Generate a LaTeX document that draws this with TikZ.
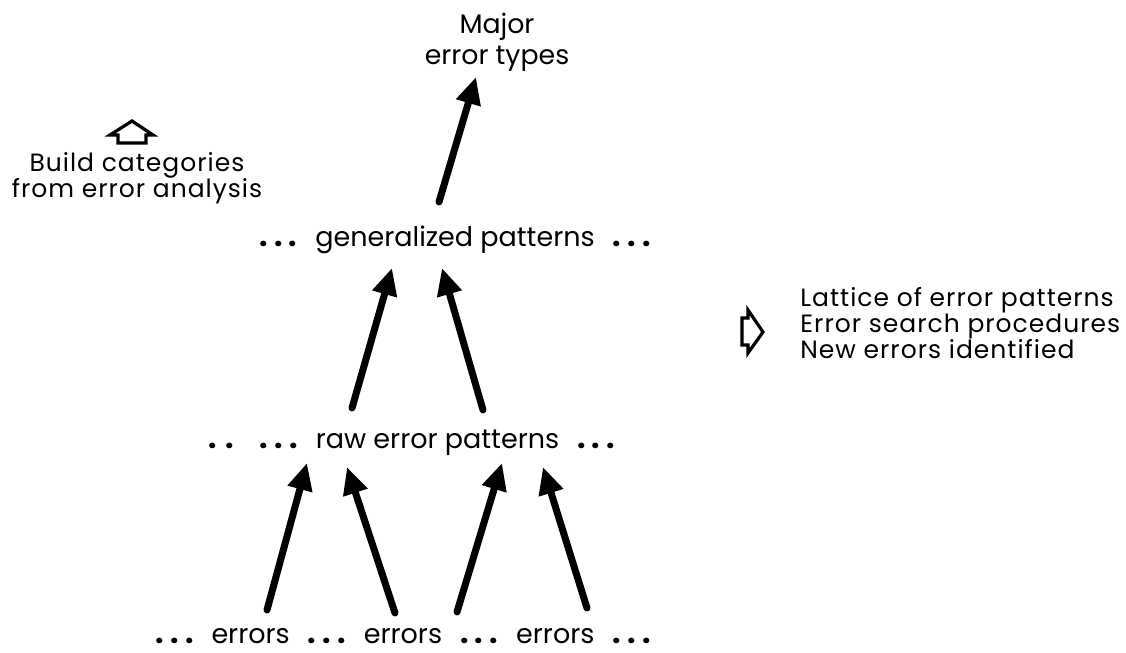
\documentclass[tikz,border=0pt]{standalone}
\usepackage{fontspec}
\setmainfont{Poppins}
\newfontfamily\notefont[LetterSpace=4]{Poppins}
\usetikzlibrary{arrows.meta}
\tikzset{
  every node/.style={font=\notefont\fontsize{12.5}{13}\selectfont, inner sep=0pt},
  level/.style={anchor=base, font=\fontsize{13.5}{14}\selectfont},
  note/.style={align=left, anchor=north west},
  arrow/.style={-{Triangle[length=13.5pt,width=12pt]}, line width=3.5pt, line cap=round},
  hollow/.style={line width=1.6pt, line join=miter},
}
\newcommand{\dts}{\makebox[19pt][s]{\bfseries\fontsize{15}{15}\selectfont.\hfil.\hfil.}}
\newcommand{\twodts}{\makebox[12.5pt][s]{\bfseries\fontsize{15}{15}\selectfont.\hfil.}}
\newcommand{\gap}{\hspace{9pt}}

\begin{document}
\begin{tikzpicture}[x=0.5pt,y=-0.5pt]
  \useasboundingbox (0,0) rectangle (1126,653);

  % ---- top: result of the analysis ----
  \node[align=center, anchor=north, font=\fontsize{13.4}{15.5}\selectfont] (major) at (497,13) {Major\\error types};

  % ---- left note with its hollow up arrow ----
  \draw[hollow] (118,143) -- (118,135) -- (110,135) -- (132,121) -- (153,135)
        -- (146,135) -- (146,143) -- cycle;
  \node[align=center, anchor=north] (build) at (137,152) {Build categories\\from error analysis};

  % ---- the three levels of the lattice ----
  \node[level] (gen)  at (455,246) {\dts\gap generalized patterns\gap\dts};
  \node[level] (raw)  at (412,448) {\twodts\hspace{13pt}\dts\gap raw error patterns\gap\dts};
  \node[level] (errs) at (403,643) {\dts\gap errors\gap\dts\gap errors\gap\dts\gap errors\gap\dts};

  % ---- arrow ends ----
  \coordinate (t0) at (439,202);  \coordinate (h0) at (476,77);
  \coordinate (t1) at (352,408);  \coordinate (h1) at (392,268);
  \coordinate (t2) at (483,410);  \coordinate (h2) at (442,268);
  \coordinate (t3) at (267,610);  \coordinate (h3) at (307,463);
  \coordinate (t4) at (395,613);  \coordinate (h4) at (347,467);
  \coordinate (t5) at (457,612);  \coordinate (h5) at (502,463);
  \coordinate (t6) at (587,608);  \coordinate (h6) at (543,467);

  \draw[arrow] (t0) -- (h0);
  \draw[arrow] (t1) -- (h1);
  \draw[arrow] (t2) -- (h2);
  \draw[arrow] (t3) -- (h3);
  \draw[arrow] (t4) -- (h4);
  \draw[arrow] (t5) -- (h5);
  \draw[arrow] (t6) -- (h6);

  % ---- right note with its hollow arrow ----
  \draw[hollow] (742,318) -- (748,318) -- (748,310) -- (763,332) -- (748,353)
        -- (748,345) -- (742,345) -- cycle;
  \node[note] (lattice) at (800,287) {Lattice of error patterns\\Error search procedures\\New errors identified};
\end{tikzpicture}
\end{document}
